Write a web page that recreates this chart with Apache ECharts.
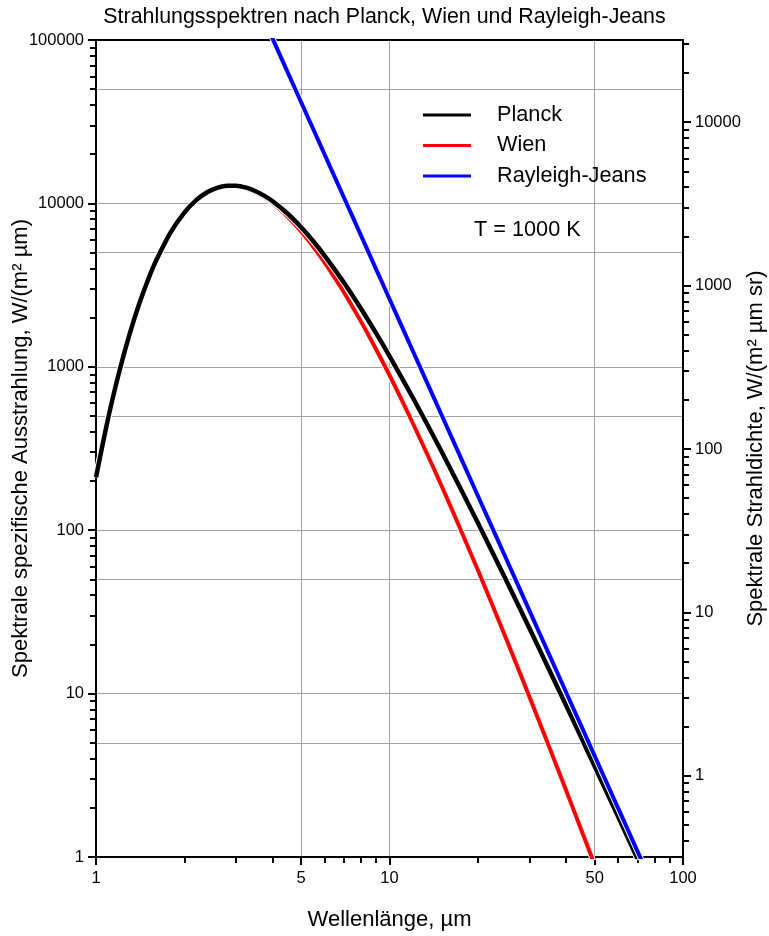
<!DOCTYPE html>
<html>
<head>
<meta charset="utf-8">
<script src="https://cdn.jsdelivr.net/npm/echarts@6/dist/echarts.min.js"></script>
<style>
    *{
        margin:0;
        padding:0;
    }
</style>
</head>
<body>
<div id="main" style="width:769px;height:936px;"></div>
<script type="text/javascript">

// Wellenlänge in µm
var wavelength = [1, 1.1, 1.2, 1.3, 1.4, 1.5, 1.6, 1.8, 2, 2.2, 2.4, 2.6, 2.8, 3, 3.25, 3.5, 3.75, 4, 4.5, 5,
    5.5, 6, 7, 8, 9, 10, 12, 15, 20, 25, 30, 35, 40, 45, 50, 60, 65, 70, 75];
// W/(m² µm)
var planck = [211, 485, 933, 1573, 2395, 3364, 4438, 6690, 8789, 10503, 11737, 12493, 12829, 12829, 12480, 11874, 11120, 10296, 8641, 7139,
    5863, 4811, 3269, 2265, 1606, 1164, 649, 306, 111, 49.2, 25.0, 14.0, 8.44, 5.38, 3.59, 1.78, 1.30, 0.976, 0.746];
var wien = [211, 485, 933, 1573, 2395, 3364, 4437, 6687, 8782, 10488, 11707, 12443, 12754, 12723, 12331, 11680, 10880, 10014, 8288, 6737,
    5434, 4374, 2851, 1890, 1281, 888, 453, 189, 57.0, 21.6, 9.53, 4.72, 2.55, 1.47, 0.898, null, null, null, null];
var rayleighJeans = [null, null, null, null, null, null, null, null, null, null, null, null, null, null, null, 173300, 131500, 101590, 63420, 41610,
    28420, 20066, 10831, 6349, 3964, 2601, 1254, 514, 162.5, 66.6, 32.1, 17.33, 10.16, 6.34, 4.16, 2.007, 1.457, 1.083, 0.822];

var xMajorTicks = [1, 5, 10, 50, 100];
var xMinorTicks = [2, 3, 4, 6, 7, 8, 9, 20, 30, 40, 60, 70, 80, 90];
var yLabels = [1, 10, 100, 1000, 10000, 100000];
var yHalfLines = [5, 50, 500, 5000, 50000];
var rightLabels = [1, 10, 100, 1000, 10000];

// 2..9 in jeder Dekade
function subTicks(from, to) {
    var out = [];
    for (var d = from; d <= to; d *= 10) {
        for (var k = 2; k <= 9; k++) out.push(+(k * d).toPrecision(6));
    }
    return out;
}
var yMinorTicks = subTicks(1, 10000);
var rightMinorTicks = [0.4, 0.5, 0.6, 0.7, 0.8, 0.9].concat(subTicks(1, 1000), [20000, 30000]);

var FONT = "'Liberation Sans', Arial, sans-serif";

function pairs(ys) {
    var out = [];
    for (var i = 0; i < wavelength.length; i++) {
        if (ys[i] != null) out.push([wavelength[i], ys[i]]);
    }
    return out;
}

function plain(v) { return String(v); }

var axisLine = {show: true, lineStyle: {color: '#000', width: 2}};
var gridLine = {show: true, lineStyle: {color: '#a0a0a0', width: 1}};
var labelStyle = {fontFamily: FONT, fontSize: 16.5, color: '#000', formatter: plain};
var nameStyle = {fontFamily: FONT, fontSize: 22, color: '#000'};

var myChart = echarts.init(document.getElementById('main'));

function lineSeries(name, ys, color, width) {
    return [
        {
            name: name + '-rand',
            type: 'line',
            data: pairs(ys),
            showSymbol: false,
            smooth: 0.3,
            silent: true,
            color: '#fff',
            lineStyle: {width: width + 2, color: '#fff'}
        },
        {
            name: name,
            type: 'line',
            data: pairs(ys),
            showSymbol: false,
            smooth: 0.3,
            color: color,
            lineStyle: {width: width, color: color}
        }
    ];
}

myChart.setOption({
    animation: false,
    backgroundColor: '#fff',
    title: [
        {
            text: 'Strahlungsspektren nach Planck, Wien und Rayleigh-Jeans',
            left: 'center',
            top: 7,
            padding: 0,
            textStyle: {fontFamily: FONT, fontSize: 21.4, fontWeight: 'normal', color: '#000'}
        },
        {
            text: 'T = 1000 K',
            left: 474,
            top: 219,
            padding: 0,
            textStyle: {fontFamily: FONT, fontSize: 21.7, fontWeight: 'normal', color: '#000'}
        }
    ],
    legend: {
        data: ['Planck', 'Wien', 'Rayleigh-Jeans'],
        orient: 'vertical',
        left: 423,
        top: 103,
        padding: 0,
        icon: 'rect',
        itemWidth: 48,
        itemHeight: 3,
        itemGap: 6.5,
        textStyle: {fontFamily: FONT, fontSize: 21.7, color: '#000', lineHeight: 24, padding: [0, 0, 0, 21]}
    },
    grid: {
        left: 96,
        right: 86,
        top: 40,
        bottom: 79,
        containLabel: false,
        outerBoundsMode: 'none'
    },
    xAxis: [
        {
            type: 'log',
            position: 'bottom',
            min: 1,
            max: 100,
            name: 'Wellenlänge, µm',
            nameLocation: 'middle',
            nameGap: 52,
            nameMoveOverlap: false,
            nameTextStyle: nameStyle,
            axisLine: axisLine,
            axisTick: {show: true, length: 8, lineStyle: {color: '#000', width: 2}, customValues: xMajorTicks},
            axisLabel: Object.assign({margin: 13, customValues: xMajorTicks}, labelStyle),
            splitLine: gridLine,
            minorTick: {show: false}
        },
        {
            type: 'log',
            position: 'bottom',
            min: 1,
            max: 100,
            axisLine: {show: false},
            axisTick: {show: true, length: 6, lineStyle: {color: '#000', width: 2}, customValues: xMinorTicks},
            axisLabel: {show: false},
            splitLine: {show: false}
        },
        {
            type: 'log',
            position: 'top',
            min: 1,
            max: 100,
            axisLine: axisLine,
            axisTick: {show: false},
            axisLabel: {show: false},
            splitLine: {show: false}
        }
    ],
    yAxis: [
        {
            type: 'log',
            position: 'left',
            min: 1,
            max: 100000,
            name: 'Spektrale spezifische Ausstrahlung, W/(m² µm)',
            nameLocation: 'middle',
            nameRotate: 90,
            nameGap: 64,
            nameMoveOverlap: false,
            nameTextStyle: nameStyle,
            axisLine: axisLine,
            axisTick: {show: true, length: 8, lineStyle: {color: '#000', width: 2}, customValues: yLabels},
            axisLabel: Object.assign({margin: 12, customValues: yLabels}, labelStyle),
            splitLine: gridLine
        },
        {
            type: 'log',
            position: 'left',
            min: 1,
            max: 100000,
            axisLine: {show: false},
            axisTick: {show: true, length: 6, lineStyle: {color: '#000', width: 2}, customValues: yMinorTicks},
            axisLabel: {show: false},
            splitLine: {show: false}
        },
        {
            type: 'log',
            position: 'left',
            min: 1,
            max: 100000,
            axisLine: {show: false},
            axisTick: {show: false, customValues: yHalfLines},
            axisLabel: {show: false},
            splitLine: gridLine
        },
        {
            type: 'log',
            position: 'right',
            min: 1 / Math.PI,
            max: 100000 / Math.PI,
            name: 'Spektrale Strahldichte, W/(m² µm sr)',
            nameLocation: 'middle',
            nameRotate: 90,
            nameGap: 62,
            nameMoveOverlap: false,
            nameTextStyle: nameStyle,
            axisLine: axisLine,
            axisTick: {show: true, length: 8, lineStyle: {color: '#000', width: 2}, customValues: rightLabels},
            axisLabel: Object.assign({margin: 12, customValues: rightLabels}, labelStyle),
            splitLine: {show: false}
        },
        {
            type: 'log',
            position: 'right',
            min: 1 / Math.PI,
            max: 100000 / Math.PI,
            axisLine: {show: false},
            axisTick: {show: true, length: 6, lineStyle: {color: '#000', width: 2}, customValues: rightMinorTicks},
            axisLabel: {show: false},
            splitLine: {show: false}
        }
    ],
    series: [].concat(
        lineSeries('Wien', wien, '#ff0000', 4),
        lineSeries('Planck', planck, '#000000', 4.5),
        lineSeries('Rayleigh-Jeans', rayleighJeans, '#0000ff', 4)
    )
});
</script>
</body>
</html>
